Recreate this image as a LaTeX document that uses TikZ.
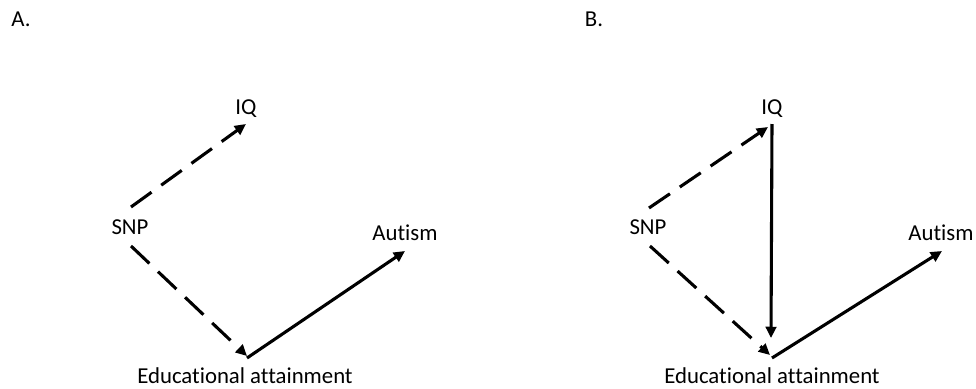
\documentclass[tikz,border=0pt]{standalone}
\usepackage{fontspec}
\setmainfont{Carlito}[Ligatures=NoCommon]
\usetikzlibrary{arrows.meta}

\begin{document}
\begin{tikzpicture}[x=0.025cm,y=-0.025cm,font=\fontsize{16.2}{19}\selectfont,
  every node/.style={anchor=base,inner sep=0pt},
  link/.style={line width=2.2pt,-{Triangle[length=8pt,width=7.5pt]}},
  dashlink/.style={link,dash pattern=on 18pt off 8.5pt}]
\useasboundingbox (0,0) rectangle (976,389);
% panel A
\node (panela) at (21,26) {A.};
\node (iqa) at (246,114) {IQ};
\node (snpa) at (130,234) {SNP};
\node (autisma) at (405,240) {Autism};
\node (edua) at (245,383) {Educational attainment};
\coordinate (snpaup) at (131,207);
\coordinate (snpadown) at (131,246);
\coordinate (iqatip) at (246,124);
\coordinate (eduatip) at (247,356);
\coordinate (eduavertex) at (247,358);
\coordinate (autismatip) at (405,251);
\draw[dashlink] (snpaup) -- (iqatip);
\draw[dashlink] (snpadown) -- (eduatip);
\draw[link] (eduavertex) -- (autismatip);
% panel B
\node (panelb) at (594,26) {B.};
\node (iqb) at (772,114) {IQ};
\node (snpb) at (648,234) {SNP};
\node (autismb) at (941,240) {Autism};
\node (edub) at (772,383) {Educational attainment};
\coordinate (snpbup) at (649,208);
\coordinate (snpbdown) at (650,246);
\coordinate (iqbtip) at (768,127);
\coordinate (iqbtop) at (772,124);
\coordinate (edubtop) at (771,338);
\coordinate (edubtip) at (770,355);
\coordinate (edubvertex) at (772,358);
\coordinate (autismbtip) at (942,251);
\draw[dashlink] (snpbup) -- (iqbtip);
\draw[dashlink] (snpbdown) -- (edubtip);
\draw[link] (iqbtop) -- (edubtop);
\draw[link] (edubvertex) -- (autismbtip);
\end{tikzpicture}
\end{document}
